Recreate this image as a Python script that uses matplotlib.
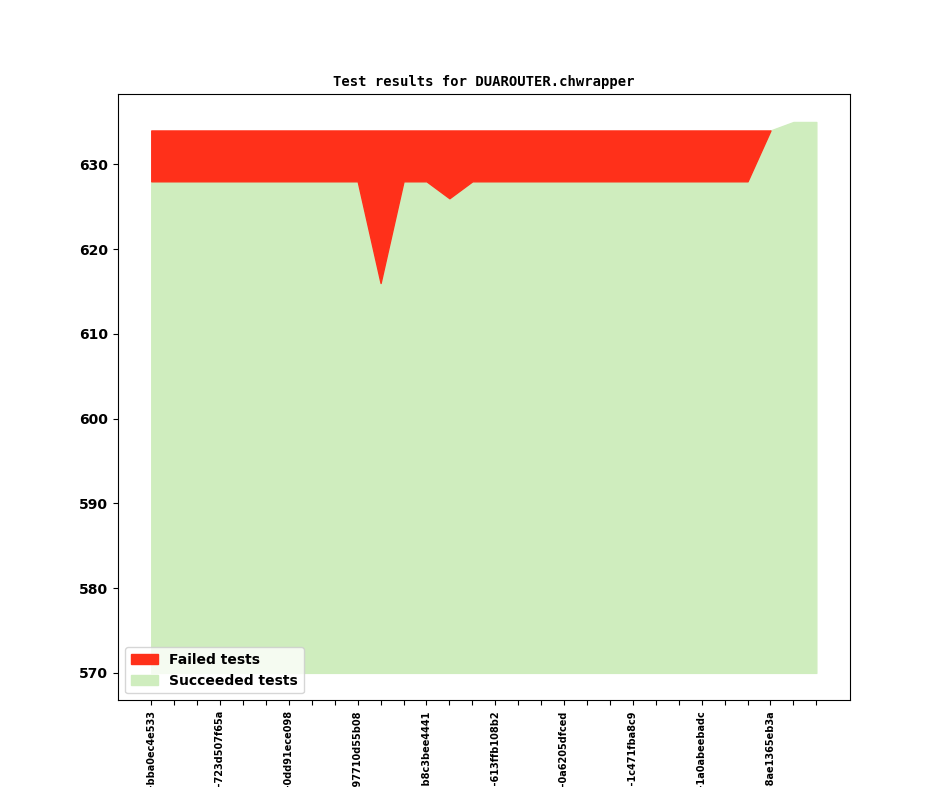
import numpy as np
import matplotlib
matplotlib.use("Agg")
import matplotlib.pyplot as plt

# commit labels (only the tail is visible in the reference)
revs = [
    "v1_1_0+0101-bba0ec4e533", "v1_1_0+0102-1a2b3c4d5e6", "v1_1_0+0103-9f8e7d6c5b4",
    "v1_1_0+0104-723d507f65a", "v1_1_0+0105-3c2d1e0f9a8", "v1_1_0+0106-5e6f7a8b9c0",
    "v1_1_0+0107-0dd91ece098", "v1_1_0+0108-4b5c6d7e8f9", "v1_1_0+0109-8a9b0c1d2e3",
    "v1_1_0+0110-97710d55b08", "v1_1_0+0111-2d3e4f5a6b7", "v1_1_0+0112-6f7a8b9c0d1",
    "v1_1_0+0113-b8c3bee4441", "v1_1_0+0114-0e1f2a3b4c5", "v1_1_0+0115-7c8d9e0f1a2",
    "v1_1_0+0116-613ffb108b2", "v1_1_0+0117-a1b2c3d4e5f", "v1_1_0+0118-e5f6a7b8c9d",
    "v1_1_0+0119-0a6205dfced", "v1_1_0+0120-c3d4e5f6a7b", "v1_1_0+0121-f1e2d3c4b5a",
    "v1_1_0+0122-1c471fba8c9", "v1_1_0+0123-9a0b1c2d3e4", "v1_1_0+0124-d7e8f9a0b1c",
    "v1_1_0+0125-1a0abeebadc", "v1_1_0+0126-5b6c7d8e9f0", "v1_1_0+0127-2f3a4b5c6d7",
    "v1_1_0+0128-8ae1365eb3a", "v1_1_0+0129-4e5f6a7b8c9", "v1_1_0+0130-b0c1d2e3f4a",
]
succeeded = [628, 628, 628, 628, 628, 628, 628, 628, 628, 628,
             616, 628, 628, 626, 628, 628, 628, 628, 628, 628,
             628, 628, 628, 628, 628, 628, 628, 634, 635, 635]
failed = [6, 6, 6, 6, 6, 6, 6, 6, 6, 6,
          18, 6, 6, 8, 6, 6, 6, 6, 6, 6,
          6, 6, 6, 6, 6, 6, 6, 0, 0, 0]

x = np.arange(len(revs))
succ = np.array(succeeded)
fail = np.array(failed)
total = succ + fail
base = 570

# red band only where there are failures (plus the closing point)
has_fail = fail > 0
mask = has_fail | np.r_[False, has_fail[:-1]]

fig = plt.figure(figsize=(9.44, 7.87), dpi=100)
ax = fig.add_subplot(111)
g = ax.fill_between(x, base, succ, color="#cfedbe", label="Succeeded tests")
r = ax.fill_between(x, succ, total, where=mask, color="#ff301a",
                    label="Failed tests")

ax.set_title("Test results for DUAROUTER.chwrapper", family="DejaVu Sans Mono",
             fontweight="bold", fontsize=10)
ax.set_xticks(x)
ax.set_xticklabels([r_ if i % 3 == 0 else "" for i, r_ in enumerate(revs)],
                   rotation=90, fontsize=7, fontweight="bold")
for lbl in ax.get_yticklabels():
    lbl.set_fontweight("bold")
ax.legend(handles=[r, g], loc="lower left", prop={"weight": "bold", "size": 10})

fig.savefig("out.png", dpi=100)
